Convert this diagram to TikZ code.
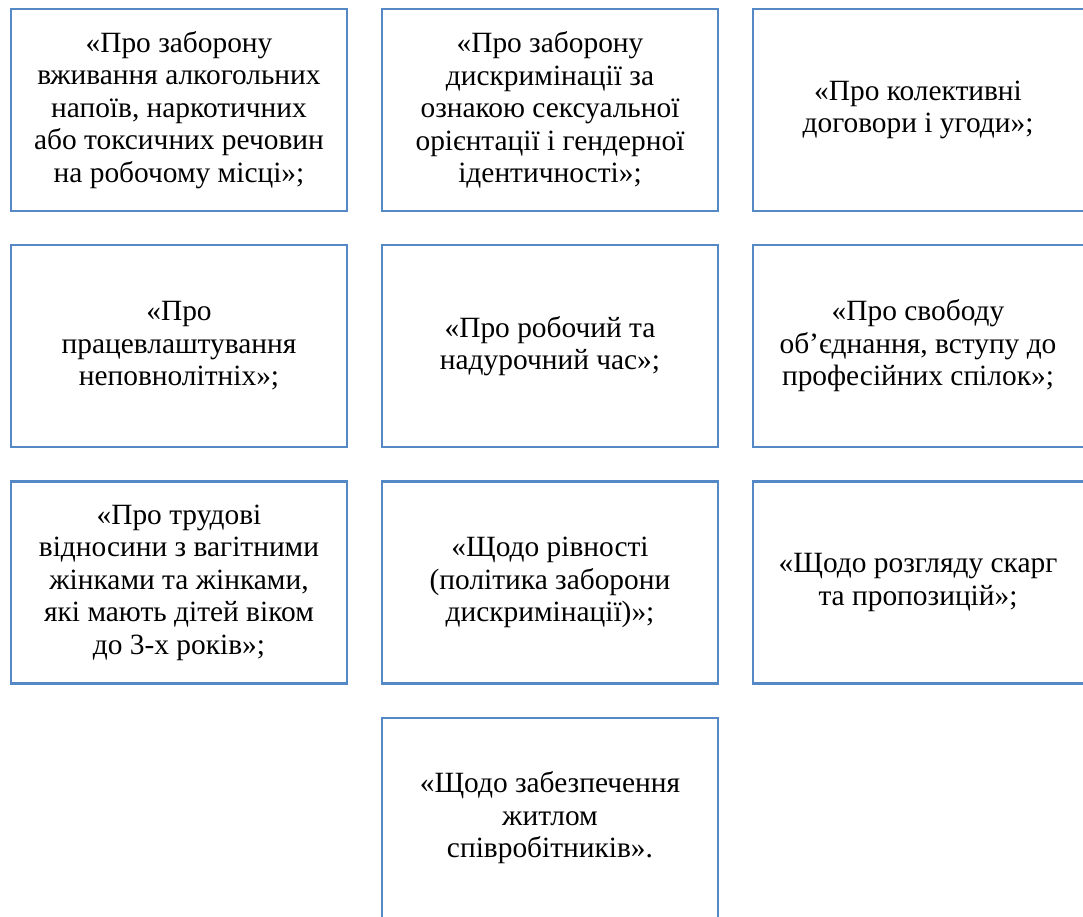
\documentclass[tikz,border=0pt]{standalone}
\usepackage{fontspec}
\setmainfont{Liberation Serif}
\definecolor{boxblue}{RGB}{84,137,197}
\begin{document}
\begin{tikzpicture}[x=1pt,y=-1pt,
  cell/.style={draw=boxblue,line width=2.6pt,fill=white,minimum width=336pt,minimum height=202pt,inner sep=0pt},
  txt/.style={align=center,font=\fontsize{29.4}{32.5}\selectfont,inner sep=0pt}]
\useasboundingbox (0,0) rectangle (1083,917);
\begin{scope}
\clip (0,0) rectangle (1083,917);
% row 1
\node[cell] (b11) at (179,110) {};
\node[cell] (b12) at (550,110) {};
\node[cell] (b13) at (921,110) {};
% row 2
\node[cell] (b21) at (179,346) {};
\node[cell] (b22) at (550,346) {};
\node[cell] (b23) at (921,346) {};
% row 3
\node[cell] (b31) at (179,582.5) {};
\node[cell] (b32) at (550,582.5) {};
\node[cell] (b33) at (921,582.5) {};
% row 4
\node[cell] (b42) at (550,819) {};
\end{scope}
\node[txt] (t11) at (b11.center) {«Про заборону\\вживання алкогольних\\напоїв, наркотичних\\або токсичних речовин\\на робочому місці»;};
\node[txt] (t12) at (b12.center) {«Про заборону\\дискримінації за\\ознакою сексуальної\\орієнтації і гендерної\\ідентичності»;};
\node[txt] (t13) at (918,110) {«Про колективні\\договори і угоди»;};
\node[txt] (t21) at (b21.center) {«Про\\працевлаштування\\неповнолітніх»;};
\node[txt] (t22) at (b22.center) {«Про робочий та\\надурочний час»;};
\node[txt] (t23) at (918,346) {«Про свободу\\об’єднання, вступу до\\професійних спілок»;};
\node[txt] (t31) at (b31.center) {«Про трудові\\відносини з вагітними\\жінками та жінками,\\які мають дітей віком\\до 3-х років»;};
\node[txt] (t32) at (b32.center) {«Щодо рівності\\(політика заборони\\дискримінації)»;};
\node[txt] (t33) at (918,582.5) {«Щодо розгляду скарг\\та пропозицій»;};
\node[txt] (t42) at (550,818) {«Щодо забезпечення\\житлом\\співробітників».};
\end{tikzpicture}
\end{document}
